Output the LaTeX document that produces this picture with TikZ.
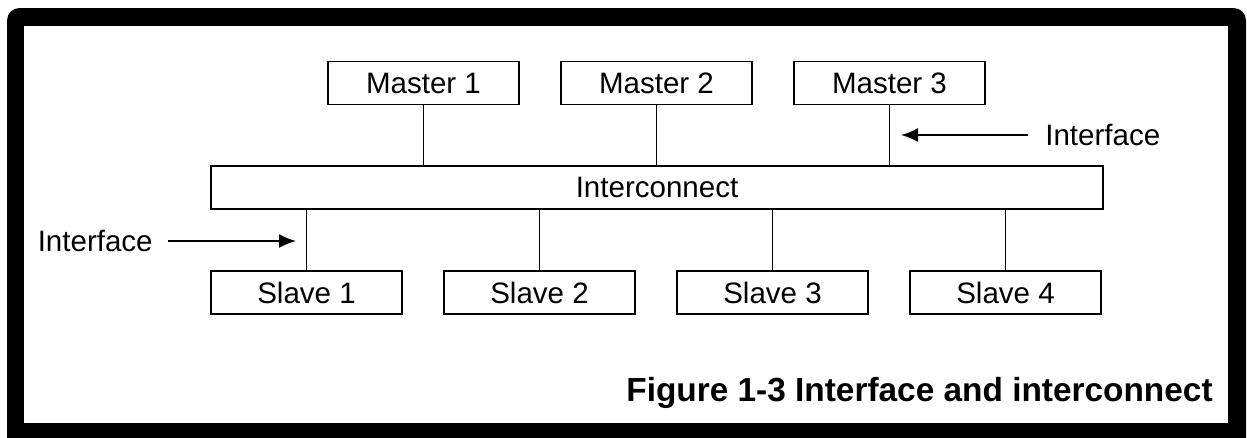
\documentclass[tikz,border=0pt]{standalone}
\usepackage{fontspec}
\setmainfont{Liberation Sans}
\usepackage{tikz}
\usetikzlibrary{positioning,arrows.meta}

\begin{document}
\begin{tikzpicture}[node distance=4.66cm,on grid,
	unit/.style={draw,line width=1pt,minimum width=3.82cm,minimum height=0.86cm,inner sep=0pt,font=\fontsize{16.8}{19}\selectfont},
	lbl/.style={inner sep=0pt,font=\fontsize{16.8}{19}\selectfont},
	wire/.style={line width=1pt},
	pointer/.style={line width=1pt,-{Latex[length=0.34cm,width=0.28cm]}}]
	\useasboundingbox (0,0) rectangle (24.94,-8.74);
	% frame
	\fill[black,rounded corners=0.25cm] (0.14,-0.16) rectangle (24.92,-9.4);
	\fill[white] (0.48,-0.52) rectangle (24.56,-8.46);

	\node[unit] (m1) at (8.47,-1.66) {Master 1};
	\node[unit] (m2) [right=of m1] {Master 2};
	\node[unit] (m3) [right=of m2] {Master 3};

	\node[unit,minimum width=17.84cm] (ic) at (13.14,-3.75) {Interconnect};

	\node[unit] (s1) at (6.13,-5.85) {Slave 1};
	\node[unit] (s2) [right=of s1] {Slave 2};
	\node[unit] (s3) [right=of s2] {Slave 3};
	\node[unit] (s4) [right=of s3] {Slave 4};

	\foreach \m in {m1,m2,m3}
		\draw[wire] (\m.south) -- (\m.south |- ic.north);
	\foreach \s in {s1,s2,s3,s4}
		\draw[wire] (\s.north) -- (\s.north |- ic.south);

	% interface pointers
	\coordinate (tipa) at (18.02,-2.7);
	\node[lbl,anchor=west] (ifa) at (20.9,-2.7) {Interface};
	\draw[pointer] (ifa.west) ++(-0.34,0) -- (tipa);

	\coordinate (tipb) at (5.92,-4.82);
	\node[lbl,anchor=east] (ifb) at (3.06,-4.82) {Interface};
	\draw[pointer] (ifb.east) ++(0.3,0) -- (tipb);

	\node[anchor=east,inner sep=0pt,font=\bfseries\fontsize{19}{22}\selectfont] (cap) at (24.26,-7.86) {Figure 1-3 Interface and interconnect};
\end{tikzpicture}
\end{document}
